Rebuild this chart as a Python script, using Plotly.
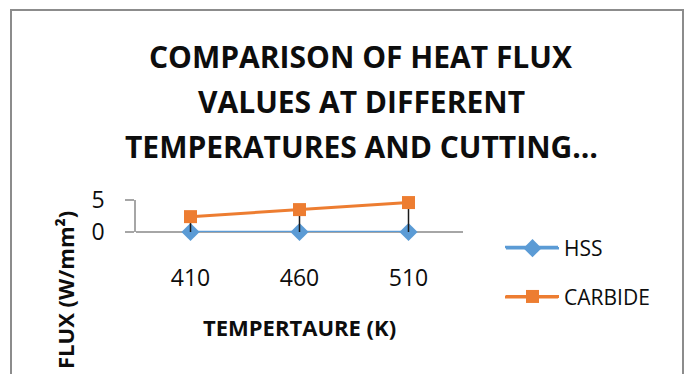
import plotly.graph_objects as go

# Heat flux readings (W/mm²) at each cutting temperature
temperatures = ["410", "460", "510"]
hss_flux = [0.0, 0.0, 0.0]
carbide_flux = [2.4, 3.5, 4.6]

W, H = 689, 374
L, R, T, B = 136, 226, 200, 142


def px(x):
    return (x - L) / (W - L - R)


def py(y):
    return (H - B - y) / (H - T - B)


GRID = "#a6a6a6"
TXT = "#0d0d0d"
HSS_COLOR = "#5B9BD5"
CARBIDE_COLOR = "#ED7D31"

fig = go.Figure()

fig.add_trace(go.Scatter(
    x=temperatures, y=hss_flux, name="HSS", mode="lines+markers",
    legendgroup="hss",
    line=dict(color=HSS_COLOR, width=2.5),
    marker=dict(symbol="diamond", size=14, color=HSS_COLOR),
    cliponaxis=False,
))

fig.add_trace(go.Scatter(
    x=temperatures, y=carbide_flux, name="CARBIDE", mode="lines+markers",
    legendgroup="carbide",
    line=dict(color=CARBIDE_COLOR, width=3),
    marker=dict(symbol="square", size=13, color=CARBIDE_COLOR),
    error_y=dict(type="data", symmetric=False,
                 array=[0] * len(carbide_flux), arrayminus=carbide_flux,
                 color="#1a1a1a", thickness=1.5, width=0),
    cliponaxis=False,
))

title_lines = ["COMPARISON OF HEAT FLUX", "VALUES AT DIFFERENT",
               "TEMPERATURES AND CUTTING…"]
title_y = [56, 101, 146]
annotations = []
for line, yy in zip(title_lines, title_y):
    annotations.append(dict(
        text=line, xref="paper", yref="paper", x=px(361), y=py(yy),
        xanchor="center", yanchor="middle", showarrow=False,
        font=dict(family="Open Sans", size=30, color=TXT, weight="bold"),
    ))

annotations.append(dict(
    text="TEMPERTAURE (K)", xref="paper", yref="paper", x=px(299), y=py(327),
    xanchor="center", yanchor="middle", showarrow=False,
    font=dict(family="Open Sans", size=22, color=TXT, weight="bold"),
))
annotations.append(dict(
    text="FLUX (W/mm²)", xref="paper", yref="paper", x=px(65), y=py(290),
    xanchor="center", yanchor="middle", showarrow=False, textangle=-90,
    font=dict(family="Open Sans", size=22, color=TXT, weight="bold"),
))

# chart frame
shapes = [dict(
    type="rect", xref="paper", yref="paper",
    x0=px(11), x1=px(683), y0=py(400), y1=py(10),
    line=dict(color="#8c8c8c", width=2), fillcolor="rgba(0,0,0,0)",
    layer="below",
)]
# longer legend key lines behind the legend symbols
for color, width, row_y in [(HSS_COLOR, 2.5, 247), (CARBIDE_COLOR, 3, 297)]:
    shapes.append(dict(
        type="line", xref="paper", yref="paper",
        x0=px(505), x1=px(558), y0=py(row_y), y1=py(row_y),
        line=dict(color=color, width=width), layer="above",
    ))

fig.update_layout(
    width=W, height=H,
    margin=dict(l=L, r=R, t=T, b=B),
    paper_bgcolor="white", plot_bgcolor="white",
    font=dict(family="Open Sans", color=TXT),
    showlegend=True,
    legend=dict(
        x=px(501), y=py(228), xanchor="left", yanchor="top",
        font=dict(size=21, color=TXT), traceorder="grouped",
        tracegroupgap=18, itemwidth=53, bgcolor="rgba(0,0,0,0)",
        maxheight=300,
    ),
    annotations=annotations,
    shapes=shapes,
)

fig.update_xaxes(
    type="category", range=[-0.5, 2.5], showgrid=False, showline=False,
    zeroline=False, ticks="", ticklabelstandoff=30,
    tickfont=dict(size=23, color=TXT),
)
fig.update_yaxes(
    range=[0, 5], dtick=5, showgrid=True, gridcolor=GRID, gridwidth=1.5,
    zeroline=True, zerolinecolor=GRID, zerolinewidth=1.5,
    showline=True, linecolor=GRID, linewidth=1.5,
    ticks="outside", ticklen=9, tickcolor=GRID, tickwidth=1.5,
    ticklabelstandoff=16, tickfont=dict(size=23, color=TXT),
)

fig.write_html("out.html")
